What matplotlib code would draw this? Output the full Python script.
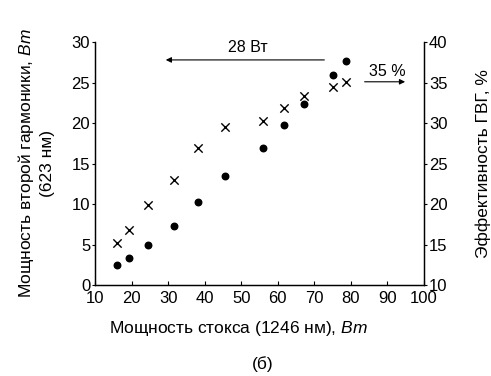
import matplotlib
matplotlib.use("Agg")
import matplotlib.pyplot as plt

plt.rcParams['font.family'] = ['Liberation Sans', 'DejaVu Sans']
plt.rcParams['mathtext.fontset'] = 'custom'
plt.rcParams['mathtext.rm'] = 'Liberation Sans'
plt.rcParams['mathtext.it'] = 'Liberation Sans:italic'

# мощность стокса, Вт
stokes_power = [16.1, 19.4, 24.5, 31.6, 38.3, 45.6, 56.0, 61.8, 67.1, 75.0, 78.7]
# мощность второй гармоники, Вт
shg_power = [2.5, 3.3, 4.9, 7.3, 10.3, 13.5, 16.95, 19.75, 22.3, 25.9, 27.65]
# эффективность ГВГ, %
efficiency = [15.2, 16.8, 19.9, 23.0, 26.9, 29.5, 30.2, 31.9, 33.3, 34.5, 35.1]

xticks = [10, 20, 30, 40, 50, 60, 70, 80, 90, 100]
left_ticks = [0, 5, 10, 15, 20, 25, 30]
right_ticks = [10, 15, 20, 25, 30, 35, 40]

fig = plt.figure(figsize=(4.91, 3.76), dpi=100)
ax = fig.add_axes([0.1935, 0.242, 0.67, 0.646])
ax2 = ax.twinx()

ax.scatter(stokes_power, shg_power, s=22, color='black', marker='o', zorder=3)
ax2.scatter(stokes_power, efficiency, s=36, color='black',
            marker='x', linewidths=1.0, zorder=3)

ax.set_xlim(10, 100)
ax.set_ylim(0, 30)
ax2.set_ylim(10, 40)
ax.set_xticks(xticks)
ax.set_yticks(left_ticks)
ax2.set_yticks(right_ticks)

for a in (ax, ax2):
    a.spines['top'].set_visible(False)
    for s in a.spines.values():
        s.set_linewidth(0.9)
ax.tick_params(axis='x', direction='in', length=3, labelsize=12, pad=4)
ax.tick_params(axis='y', direction='out', length=2.5, labelsize=12, pad=1)
ax2.tick_params(axis='y', direction='out', length=2.5, labelsize=12, pad=1)

ax.set_xlabel('Мощность стокса (1246 нм), $\\mathit{Вт}$', fontsize=12.5)
ax.xaxis.set_label_coords(0.435, -0.14)
ax.set_ylabel('Мощность второй гармоники, $\\mathit{Вт}$\n(623 нм)', fontsize=12.5,
              labelpad=12, linespacing=1.35)
ax2.set_ylabel('Эффективность ГВГ, %', fontsize=12.5, labelpad=20)

# стрелки
ax.annotate('', xy=(28.6, 27.8), xytext=(73.5, 27.8),
            arrowprops=dict(arrowstyle='-|>', color='black', lw=0.8,
                            mutation_scale=8))
ax.text(51.8, 28.4, '28 Вт', fontsize=11.5, ha='center', va='bottom')
ax2.annotate('', xy=(95.6, 35.1), xytext=(83.0, 35.1),
             arrowprops=dict(arrowstyle='-|>', color='black', lw=0.8,
                             mutation_scale=8))
ax2.text(90.1, 35.5, '35 %', fontsize=11.5, ha='center', va='bottom')

fig.text(0.534, 0.032, '(б)', fontsize=12.5, ha='center', va='center')

fig.savefig('out.png', dpi=100)
